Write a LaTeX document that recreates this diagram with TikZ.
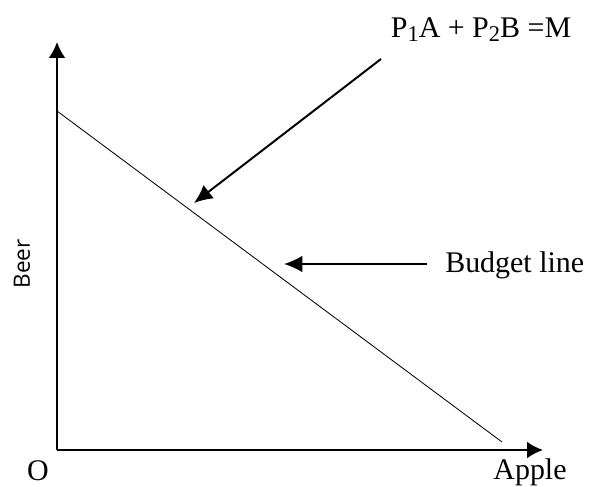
\documentclass[tikz,border=0pt]{standalone}
\usepackage{fontspec}
\setmainfont{Liberation Serif}
\newfontfamily\beerfont{Open Sans}
\usetikzlibrary{arrows.meta}

\begin{document}
\begin{tikzpicture}[scale=1,
    axis/.style={line width=1.4pt, -{Latex[length=4mm,width=4.2mm]}},
    pointer/.style={line width=1.4pt, -{Latex[length=4.6mm,width=4.2mm]}},
    lbl/.style={font=\fontsize{21.3}{25}\selectfont, inner sep=0pt}]
\useasboundingbox (-1.425,-0.9) rectangle (13.475,11.25);

% Axes
\coordinate (O) at (0,0);
\coordinate (ytop) at (0,10.2);
\coordinate (xend) at (12.15,0);
\draw[axis] (O) -- (ytop);
\draw[axis] (O) -- (xend);

% Budget line
\coordinate (bl1) at (0,8.475);
\coordinate (bl2) at (11.125,0.2);
\draw[line width=0.6pt] (bl1) -- (bl2);

% Labels
\node[lbl, anchor=base] (orig) at (-0.475,-0.77) {O};
\node[lbl, anchor=base] (apple) at (11.825,-0.74) {Apple};
\node[inner sep=0pt, rotate=90, font=\beerfont\fontsize{16}{18}\selectfont] (beer) at (-0.875,4.65) {Beer};
\node[lbl, anchor=base] (eqn) at (10.6,10.3)
  {P\raisebox{-2.5pt}{\fontsize{16}{16}\selectfont 1}A + P\raisebox{-2.5pt}{\fontsize{16}{16}\selectfont 2}B =M};
\node[lbl, anchor=base west] (budget) at (9.7,4.425) {Budget line};

% Pointers
\coordinate (eqfrom) at (8.1,9.775);
\coordinate (eqto) at (3.425,6.175);
\draw[pointer] (eqfrom) -- (eqto);
\coordinate (bfrom) at (9.25,4.65);
\coordinate (bto) at (5.675,4.65);
\draw[pointer] (bfrom) -- (bto);
\end{tikzpicture}
\end{document}
